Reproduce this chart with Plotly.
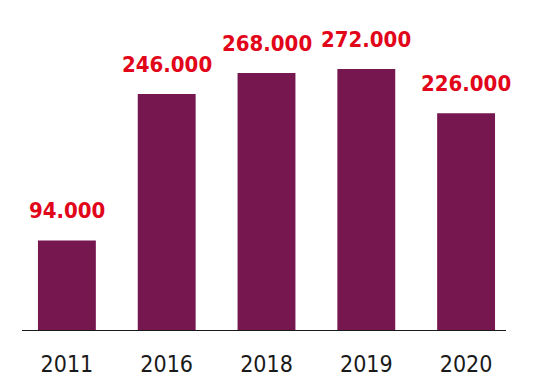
import plotly.graph_objects as go

years = ["2011", "2016", "2018", "2019", "2020"]
values = [94, 246, 268, 272, 226]
labels = ["94.000", "246.000", "268.000", "272.000", "226.000"]

bar_color = "#76174f"
label_color = "#e2061a"
FONT = "DejaVu Sans Condensed, Roboto, sans-serif"

fig = go.Figure()
fig.add_trace(go.Bar(x=years, y=values, marker=dict(color=bar_color, line=dict(width=0)),
                     hoverinfo="skip"))

for i, (v, lab) in enumerate(zip(values, labels)):
    fig.add_annotation(x=i, y=v, text=lab, showarrow=False, yanchor="bottom", yshift=15,
                       font=dict(family=FONT, size=22, color=label_color, weight="bold"))

fig.update_layout(
    width=528, height=375,
    margin=dict(l=9, r=20, t=0, b=52),
    paper_bgcolor="white", plot_bgcolor="white",
    bargap=0.42, showlegend=False,
    xaxis=dict(type="category", range=[-0.5, len(years) - 0.5], showline=False,
               ticks="outside", ticklen=12, tickcolor="rgba(0,0,0,0)",
               tickfont=dict(family=FONT, size=23, color="#1a1a1a"),
               showgrid=False),
    yaxis=dict(range=[0, 335.4], visible=False),
    shapes=[dict(type="line", xref="paper", yref="y", x0=0.01, x1=0.98, y0=0, y1=0,
                 line=dict(color="#1a1a1a", width=2))],
)

fig.write_html("out.html")
